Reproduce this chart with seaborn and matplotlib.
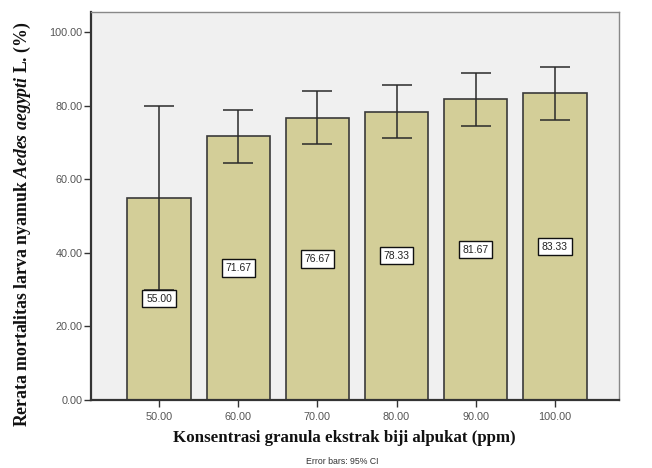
import matplotlib
matplotlib.use("Agg")
import matplotlib.pyplot as plt
import seaborn as sns
import pandas as pd
import numpy as np

categories = ["50.00", "60.00", "70.00", "80.00", "90.00", "100.00"]
means = [55.00, 71.67, 76.67, 78.33, 81.67, 83.33]
ci_low = [30.0, 64.4, 69.6, 71.2, 74.5, 76.1]
ci_high = [79.9, 78.8, 84.0, 85.6, 88.9, 90.5]
yticks = [0, 20, 40, 60, 80, 100]

sns.set_theme(style="white")
plt.rcParams["font.family"] = ["Liberation Sans", "DejaVu Sans"]
plt.rcParams["mathtext.fontset"] = "custom"
plt.rcParams["mathtext.rm"] = "Liberation Serif:bold"
plt.rcParams["mathtext.it"] = "Liberation Serif:italic:bold"
plt.rcParams["mathtext.bf"] = "Liberation Serif:bold"

df = pd.DataFrame({"conc": categories, "mean": means})

fig = plt.figure(figsize=(6.52, 4.68), dpi=100)
ax = fig.add_axes([91/652, 68/468, 528/652, 388/468])
ax.set_facecolor("#F0F0F0")

sns.barplot(data=df, x="conc", y="mean", order=categories, color="#D3CE98",
            edgecolor="#3A3A3A", linewidth=1.2, width=0.8, saturation=1,
            errorbar=None, ax=ax)

x = np.arange(len(categories))
m = np.array(means)
lo = m - np.array(ci_low)
hi = np.array(ci_high) - m
ax.errorbar(x, m, yerr=[lo, hi], fmt="none", ecolor="#2A2A2A",
            elinewidth=1.1, capsize=10.5, capthick=1.1, zorder=3)

for xi, v in zip(x, means):
    ax.text(xi, v / 2, f"{v:.2f}", ha="center", va="center", fontsize=7.5,
            color="#222222", zorder=4,
            bbox=dict(boxstyle="square,pad=0.35", fc="white", ec="#111111", lw=1.0))

ax.set_xlim(-0.86, 5.81)
ax.set_ylim(0, 105.4)
ax.set_yticks(yticks)
ax.set_yticklabels([f"{t:.2f}" for t in yticks])
ax.tick_params(axis="both", which="both", direction="out", length=5, width=1,
               color="#333333", labelsize=7.8, labelcolor="#555555", pad=1,
               left=True, bottom=True)
ax.tick_params(axis="x", pad=4)

for s in ["left", "bottom"]:
    ax.spines[s].set_color("#333333")
    ax.spines[s].set_linewidth(1.6)
for s in ["top", "right"]:
    ax.spines[s].set_color("#888888")
    ax.spines[s].set_linewidth(1.0)

ax.set_xlabel("")
ax.set_ylabel("")
fig.text(344/652, 1 - 438/468, "Konsentrasi granula ekstrak biji alpukat (ppm)",
         ha="center", va="center", fontsize=12.2, fontweight="bold",
         family="Liberation Serif", color="#111111")
fig.text(22/652, 1 - 224/468,
         r"Rerata mortalitas larva nyamuk $\mathit{Aedes\ aegypti}$ L. (%)",
         ha="center", va="center", rotation=90, fontsize=12.8, fontweight="bold",
         family="Liberation Serif", color="#111111")
fig.text(342/652, 1 - 462/468, "Error bars: 95% CI", ha="center", va="center",
         fontsize=6.3, color="#333333")

fig.savefig("out.png", dpi=100)
